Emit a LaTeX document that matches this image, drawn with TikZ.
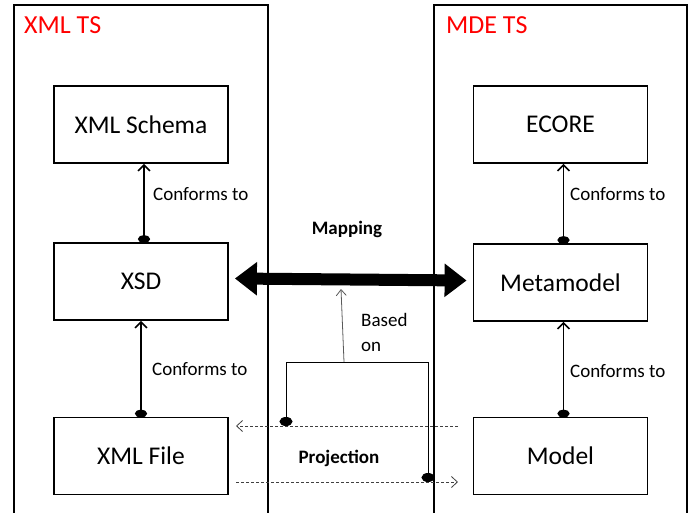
\documentclass[tikz,border=0pt]{standalone}
\usepackage{fontspec}
\setmainfont{Carlito}
\usetikzlibrary{arrows.meta}
\begin{document}
\begin{tikzpicture}[x=1pt,y=-1pt,
  container/.style={line width=1.8pt},
  title/.style={text=red,font=\fontsize{26}{30}\selectfont,anchor=west,inner sep=0pt},
  box/.style={draw,line width=1.8pt,minimum width=174pt,minimum height=77pt,font=\fontsize{25.5}{30}\selectfont,inner sep=0pt},
  conform/.style={line width=1.8pt,{Circle[length=8pt,width=12pt]}-{Straight Barb[length=6pt,width=12pt,line width=1.5pt]}},
  lbl/.style={font=\fontsize{19}{22}\selectfont,anchor=west,inner sep=0pt},
  boldlbl/.style={font=\bfseries\fontsize{19}{22}\selectfont,inner sep=0pt},
  big/.style={line width=12pt,{Triangle[length=22pt,width=32pt]}-{Triangle[length=22pt,width=32pt]}},
  proj/.style={densely dashed,line width=0.8pt,black!75,-{Straight Barb[length=6pt,width=11pt,line width=0.8pt]}},
  bracket/.style={line width=1pt,{Circle[length=9pt,width=13pt]}-{Circle[length=9pt,width=13pt]}},
  based/.style={line width=0.8pt,black!65,-{Straight Barb[length=6pt,width=10pt]}}]
\useasboundingbox (0,0) rectangle (691,512);
% containers
\draw[container] (14,515) -- (14,5) -- (268,5) -- (268,515);
\draw[container] (434,515) -- (434,5) -- (687,5) -- (687,515);
\node[title] (xmlts) at (24,25) {XML TS};
\node[title] (mdets) at (446,25) {MDE TS};
% boxes
\node[box] (schema) at (141,124.5) {XML Schema};
\node[box] (xsd) at (141,281.5) {XSD};
\node[box] (xmlfile) at (141,456) {XML File};
\node[box] (ecore) at (560.5,124.5) {ECORE};
\node[box] (meta) at (560.5,282.5) {Metamodel};
\node[box] (model) at (560.5,456) {Model};
% conforms
\draw[conform] ([xshift=3pt,yshift=-1pt]xsd.north) -- ([xshift=3pt]schema.south);
\draw[conform] ([yshift=-1pt]xmlfile.north) -- (xsd.south);
\draw[conform] ([xshift=3pt,yshift=-1pt]meta.north) -- ([xshift=3pt]ecore.south);
\draw[conform] ([xshift=3pt,yshift=-1pt]model.north) -- ([xshift=3pt]meta.south);
\node[lbl] (c1) at (153,194) {Conforms to};
\node[lbl] (c2) at (152,369) {Conforms to};
\node[lbl] (c3) at (570,194) {Conforms to};
\node[lbl] (c4) at (570,371) {Conforms to};
% mapping
\node[boldlbl] (mapping) at (347,229) {Mapping};
\draw[big] ([xshift=6pt,yshift=3pt]xsd.east) -- ([xshift=-6pt,yshift=2pt]meta.west);
% projection
\coordinate (pl) at (286,426);
\coordinate (pr) at (428,482);
\coordinate (bm) at (344,362);
\coordinate (ma) at (341,289);
\draw[bracket] (pl) -- (pl |- bm) -- (pr |- bm) -- (pr);
\draw[based] (bm) -- (ma);
\node[lbl] (based) at (361,335) {\begin{tabular}{@{}l@{}}Based\\[3pt] on\end{tabular}};
\coordinate (u1) at (458,426);
\coordinate (u2) at (236,426);
\coordinate (l1) at (236,482);
\coordinate (l2) at (458,482);
\draw[proj] (u1) -- (u2);
\draw[proj] (l1) -- (l2);
\node[boldlbl] (projection) at (339,458) {Projection};
\end{tikzpicture}
\end{document}
